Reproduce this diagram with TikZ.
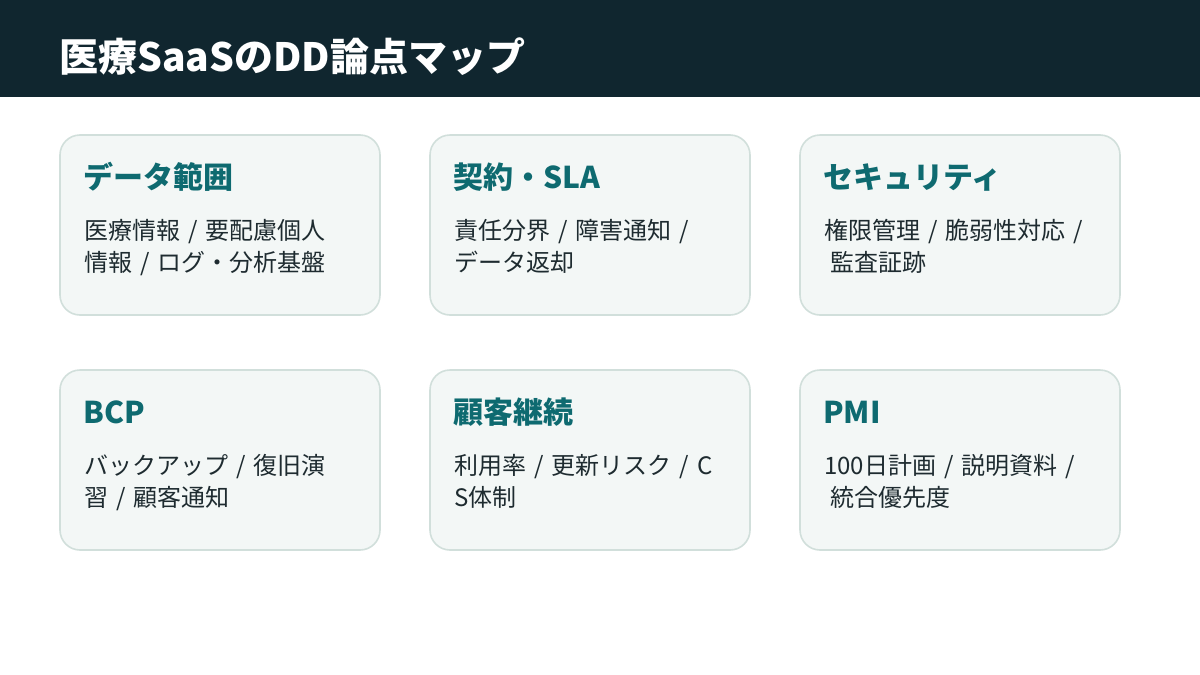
\documentclass[tikz,border=0pt]{standalone}
\usepackage{fontspec}
\setmainfont{Noto Sans CJK JP}
\definecolor{headbg}{HTML}{10262F}
\definecolor{cardfill}{HTML}{F3F7F6}
\definecolor{cardline}{HTML}{D1DFDB}
\definecolor{teal}{HTML}{0E6A70}
\definecolor{bodytxt}{HTML}{1E2B30}
\tikzset{
  card/.style={draw=cardline, line width=1.6pt, fill=cardfill, rounded corners=20pt},
  cardtitle/.style={anchor=base west, inner sep=0pt, text=teal, font=\fontsize{30}{34}\selectfont\bfseries},
  bodyline/.style={anchor=base west, inner sep=0pt, text=bodytxt, font=\fontsize{24}{28}\selectfont},
  maintitle/.style={anchor=base west, inner sep=0pt, text=white, font=\fontsize{39}{44}\selectfont\bfseries}
}
\newcommand{\sep}{\hspace{8pt}/\hspace{8pt}}
\newcommand{\mkcard}[6]{%
  \draw[card] (#1,#2) rectangle ++(320,180);
  \node[cardtitle] (#3-t) at ([shift={(23,53)}]#1,#2) {#4};
  \node[bodyline] (#3-a) at ([shift={(24,104)}]#1,#2) {#5};
  \node[bodyline] (#3-b) at ([shift={(24,136)}]#1,#2) {#6};
}
\begin{document}
\begin{tikzpicture}[x=1pt,y=-1pt]
\useasboundingbox (0,0) rectangle (1200,675);
\fill[white] (0,0) rectangle (1200,675);
\fill[headbg] (0,0) rectangle (1200,97);
\node[maintitle] (title) at (59,71) {医療SaaSのDD論点マップ};
\mkcard{60}{135}{c1}{データ範囲}{医療情報\sep 要配慮個人}{情報\sep ログ・分析基盤}
\mkcard{430}{135}{c2}{契約・SLA}{責任分界\sep 障害通知\sep}{データ返却}
\mkcard{800}{135}{c3}{セキュリティ}{権限管理\sep 脆弱性対応\sep}{\hspace{6pt}監査証跡}
\mkcard{60}{370}{c4}{BCP}{バックアップ\sep 復旧演}{習\sep 顧客通知}
\mkcard{430}{370}{c5}{顧客継続}{利用率\sep 更新リスク\sep C}{S体制}
\mkcard{800}{370}{c6}{PMI}{100日計画\sep 説明資料\sep}{\hspace{6pt}統合優先度}
\end{tikzpicture}
\end{document}
